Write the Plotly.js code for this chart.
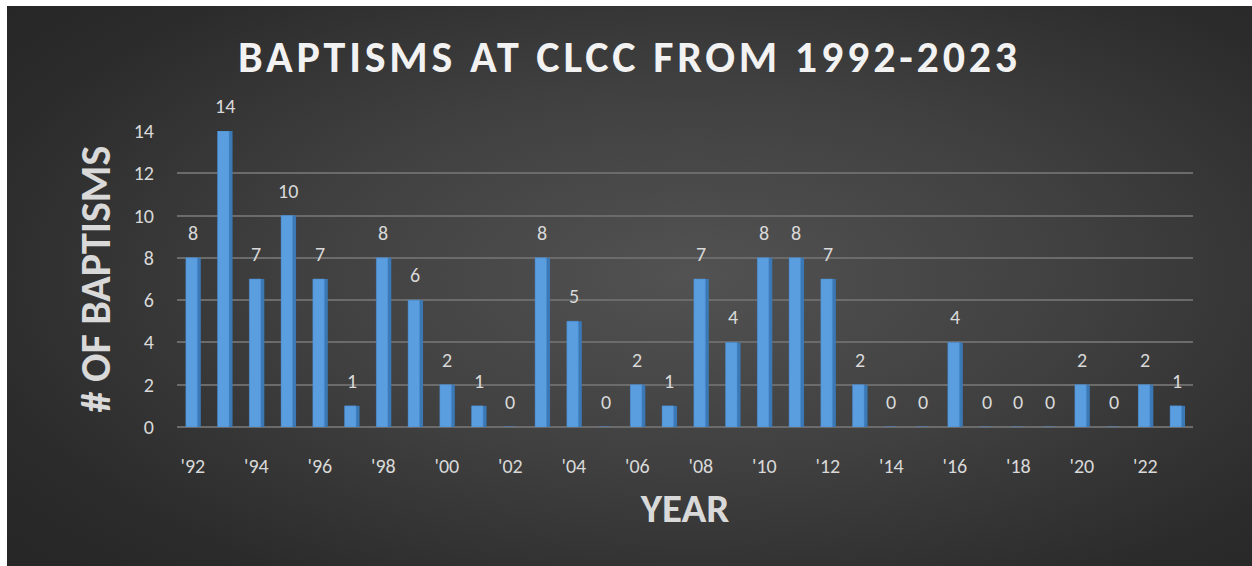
<!DOCTYPE html>
<html>
<head>
<meta charset="utf-8">
<script src="https://cdn.plot.ly/plotly-3.0.1.min.js"></script>
<style>
  html, body { margin: 0; padding: 0; background: #ffffff; }
  #wrap {
    position: absolute; left: 7px; top: 6px; width: 1245px; height: 560px;
    background: radial-gradient(ellipse 70% 75% at 55% 48%, #525252 0%, #404040 45%, #2b2b2b 85%, #272727 100%);
  }
  #chart { width: 1245px; height: 560px; }
  .gtitle { letter-spacing: 3.8px; }
</style>
</head>
<body>
<div id="wrap"><div id="chart"></div></div>
<script>
const years = [1992,1993,1994,1995,1996,1997,1998,1999,2000,2001,2002,2003,2004,2005,2006,2007,
               2008,2009,2010,2011,2012,2013,2014,2015,2016,2017,2018,2019,2020,2021,2022,2023];
const baptisms = [8,14,7,10,7,1,8,6,2,1,0,8,5,0,2,1,7,4,8,8,7,2,0,0,4,0,0,0,2,0,2,1];
const tickYears = [1992,1994,1996,1998,2000,2002,2004,2006,2008,2010,2012,2014,2016,2018,2020,2022];
const tickLabels = ["'92","'94","'96","'98","'00","'02","'04","'06","'08","'10","'12","'14","'16","'18","'20","'22"];

const FONT = 'Calibri, Carlito, Lato, "Open Sans", sans-serif';

// side (depth) face of the pseudo-3D bars
const barSide = {
  type: 'bar', x: years, y: baptisms,
  width: 0.47, offset: -0.22,
  marker: { color: '#3b78b6' },
  hoverinfo: 'skip'
};
// front face
const barFront = {
  type: 'bar', x: years, y: baptisms,
  width: 0.36, offset: -0.22,
  marker: { color: '#5b9ee0', line: { color: '#4a8bcc', width: 0.5 } },
  hoverinfo: 'x+y'
};

const labels = years.map((yr, i) => ({
  x: yr, y: baptisms[i], xref: 'x', yref: 'y',
  text: String(baptisms[i]), showarrow: false,
  yanchor: 'bottom', yshift: 11,
  font: { family: FONT, size: 20, color: '#d9d9d9' }
}));

const layout = {
  width: 1245, height: 560,
  paper_bgcolor: 'rgba(0,0,0,0)',
  plot_bgcolor: 'rgba(0,0,0,0)',
  margin: { l: 170, r: 59, t: 125, b: 139 },
  barmode: 'overlay',
  showlegend: false,
  title: {
    text: '<b>BAPTISMS AT CLCC FROM 1992-2023</b>',
    x: 0.5, xref: 'container', xanchor: 'center',
    y: 1 - 51/560, yref: 'container', yanchor: 'middle',
    font: { family: FONT, size: 44, color: '#f2f2f2' }
  },
  xaxis: {
    range: [1991.5, 2023.5],
    tickvals: tickYears, ticktext: tickLabels,
    ticks: 'outside', ticklen: 21, tickcolor: 'rgba(0,0,0,0)',
    showgrid: false, zeroline: false, showline: false,
    tickfont: { family: FONT, size: 20, color: '#d9d9d9' },
    title: { text: '<b>YEAR</b>', standoff: 16,
             font: { family: FONT, size: 41, color: '#d9d9d9' } },
    fixedrange: true
  },
  yaxis: {
    range: [0, 14],
    tickvals: [0,2,4,6,8,10,12,14],
    ticks: 'outside', ticklen: 18, tickcolor: 'rgba(0,0,0,0)',
    showgrid: true, gridcolor: '#6b6b6b', gridwidth: 2,
    zeroline: true, zerolinecolor: '#6b6b6b', zerolinewidth: 2,
    showline: false,
    tickfont: { family: FONT, size: 20, color: '#d9d9d9' },
    title: { text: '<b># OF BAPTISMS</b>', standoff: 10,
             font: { family: FONT, size: 42, color: '#d9d9d9' } },
    fixedrange: true
  },
  annotations: labels
};

Plotly.newPlot('chart', [barSide, barFront], layout, { displayModeBar: false, staticPlot: true });
</script>
</body>
</html>
